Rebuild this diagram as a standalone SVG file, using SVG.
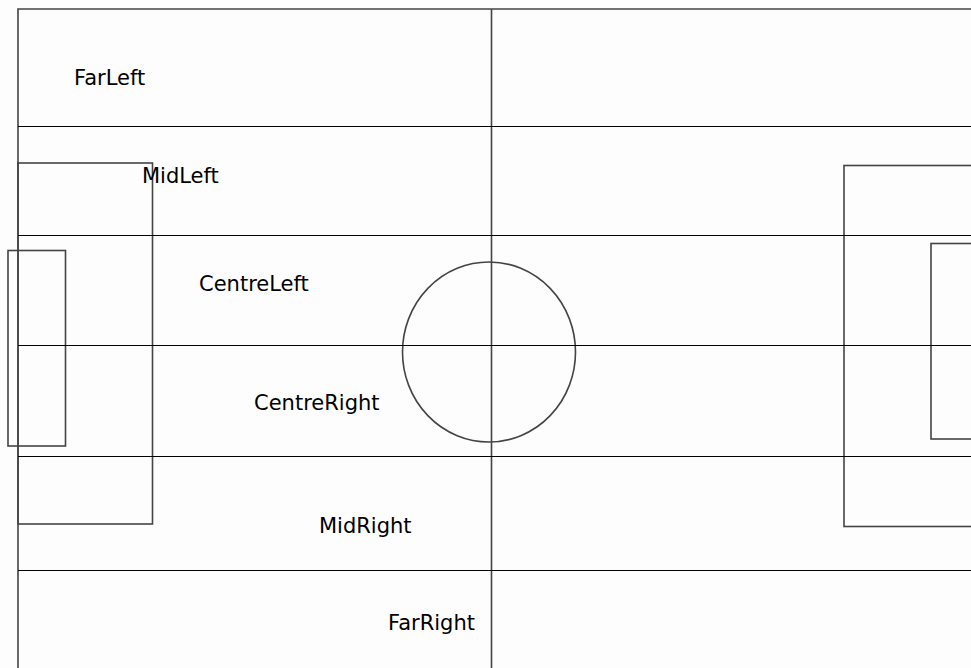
<svg xmlns="http://www.w3.org/2000/svg" width="971" height="668" viewBox="0 0 971 668">
<style>
.pitch{fill:none;stroke:#444;stroke-width:1.6}
.lane{fill:none;stroke:#000;stroke-width:1}
.lbl{font-family:"DejaVu Sans",sans-serif;font-size:21px;fill:#000}
</style>
<rect width="971" height="668" fill="#fdfdfd"/>
<g id="pitch">
<path class="pitch" d="M980,9 H18 V680"/>
<line class="pitch" x1="491.5" y1="9" x2="491.5" y2="680"/>
<rect class="pitch" x="18" y="163" width="134.5" height="361"/>
<rect class="pitch" x="8" y="250.5" width="57.5" height="195.5"/>
<ellipse class="pitch" cx="489" cy="352" rx="86.5" ry="90"/>
<rect class="pitch" x="844" y="165.5" width="140" height="361"/>
<rect class="pitch" x="931" y="243.5" width="60" height="195.5"/>
</g>
<g id="connectors">
<line class="lane" x1="18" y1="126.5" x2="971" y2="126.5"/>
<line class="lane" x1="18" y1="235.5" x2="971" y2="235.5"/>
<line class="lane" x1="18" y1="345.5" x2="971" y2="345.5"/>
<line class="lane" x1="18" y1="456.5" x2="971" y2="456.5"/>
<line class="lane" x1="18" y1="570.5" x2="971" y2="570.5"/>
</g>
<g id="FarLeft"><text class="lbl" x="74" y="85">FarLeft</text></g>
<g id="MidLeft"><text class="lbl" x="142" y="183">MidLeft</text></g>
<g id="CentreLeft"><text class="lbl" x="199" y="291">CentreLeft</text></g>
<g id="CentreRight"><text class="lbl" x="254" y="410">CentreRight</text></g>
<g id="MidRight"><text class="lbl" x="319" y="533">MidRight</text></g>
<g id="FarRight"><text class="lbl" x="388" y="630">FarRight</text></g>
</svg>
